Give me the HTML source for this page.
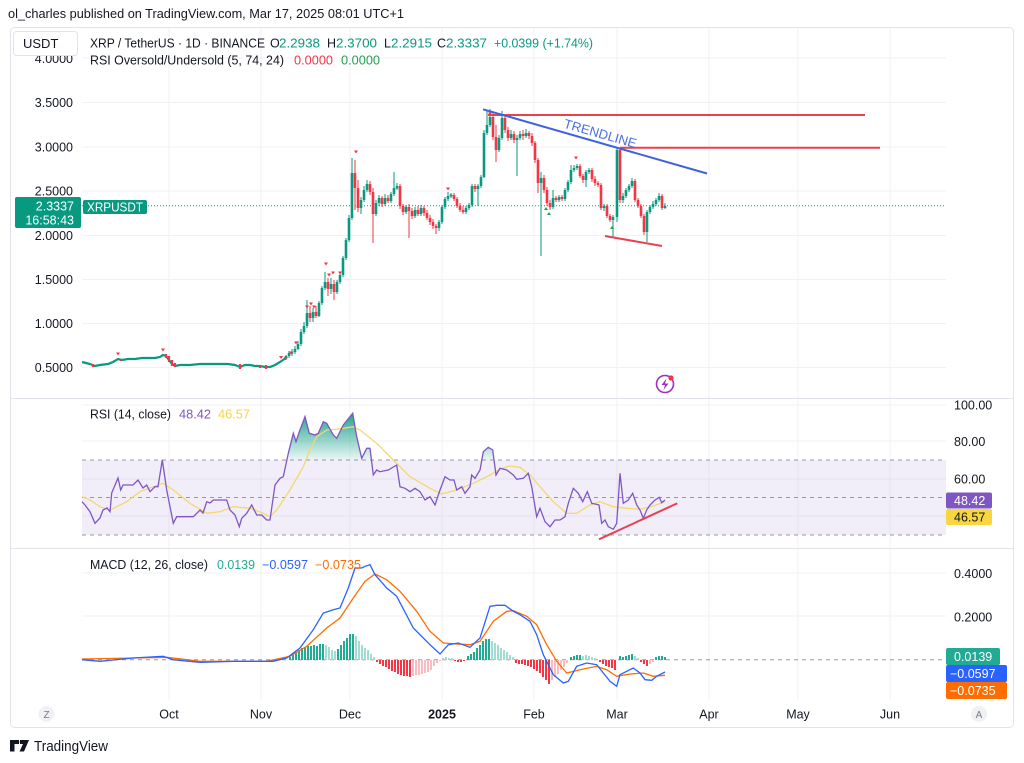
<!DOCTYPE html>
<html><head><meta charset="utf-8"><style>
html,body{margin:0;padding:0;background:#fff;width:1024px;height:763px;overflow:hidden}
svg{display:block}
text{font-family:"Liberation Sans",sans-serif}
</style></head><body>
<svg width="1024" height="763" viewBox="0 0 1024 763" xmlns="http://www.w3.org/2000/svg">
<defs>
<linearGradient id="rg" x1="0" y1="413" x2="0" y2="460" gradientUnits="userSpaceOnUse">
<stop offset="0" stop-color="#089981" stop-opacity="0.9"/><stop offset="1" stop-color="#089981" stop-opacity="0.08"/>
</linearGradient>
</defs>
<rect width="1024" height="763" fill="#fff"/>
<text x="8" y="18" font-size="13" fill="#131722" textLength="396" lengthAdjust="spacingAndGlyphs">ol_charles published on TradingView.com, Mar 17, 2025 08:01 UTC+1</text>
<rect x="10.5" y="27.5" width="1003" height="700" fill="none" stroke="#e0e3eb" rx="4"/>
<g stroke="#f0f1f4" stroke-width="1">
<path d="M82 58H946M82 102.5H946M82 147H946M82 191H946M82 235.5H946M82 279.5H946M82 323.5H946M82 367.5H946"/>
<path d="M82 405H946M82 441H946M82 479H946M82 516H946"/>
<path d="M82 573H946M82 616H946"/>
<path d="M169 28V700M261 28V700M350 28V700M442 28V700M534 28V700M617 28V700M709 28V700M798 28V700M890 28V700"/>
</g>
<path d="M10 398.5H1013M10 548.5H1013" stroke="#e0e3eb"/>
<g font-size="12.5" fill="#131722" text-anchor="end">
<text x="73" y="63">4.0000</text>
<text x="73" y="107">3.5000</text>
<text x="73" y="151.5">3.0000</text>
<text x="73" y="195.5">2.5000</text>
<text x="73" y="240">2.0000</text>
<text x="73" y="284">1.5000</text>
<text x="73" y="328">1.0000</text>
<text x="73" y="372">0.5000</text>
</g>
<rect x="13.5" y="31.5" width="64" height="24" rx="3" fill="#fff" stroke="#e0e3eb"/>
<text x="23" y="48" font-size="13" fill="#131722">USDT</text>
<g font-size="12.5">
<text x="90" y="47.5" fill="#131722" textLength="175" lengthAdjust="spacingAndGlyphs">XRP / TetherUS · 1D · BINANCE</text>
<text x="270" y="47.5" fill="#131722">O</text><text x="279" y="47.5" fill="#089981" textLength="41" lengthAdjust="spacingAndGlyphs">2.2938</text>
<text x="327" y="47.5" fill="#131722">H</text><text x="336" y="47.5" fill="#089981" textLength="41" lengthAdjust="spacingAndGlyphs">2.3700</text>
<text x="384" y="47.5" fill="#131722">L</text><text x="391" y="47.5" fill="#089981" textLength="41" lengthAdjust="spacingAndGlyphs">2.2915</text>
<text x="437" y="47.5" fill="#131722">C</text><text x="446" y="47.5" fill="#089981" textLength="41" lengthAdjust="spacingAndGlyphs">2.3337</text>
<text x="494" y="47.5" fill="#089981" textLength="99" lengthAdjust="spacingAndGlyphs">+0.0399 (+1.74%)</text>
<text x="90" y="64.5" fill="#131722" textLength="194" lengthAdjust="spacingAndGlyphs">RSI Oversold/Undersold (5, 74, 24)</text>
<text x="294" y="64.5" fill="#f23645" textLength="39" lengthAdjust="spacingAndGlyphs">0.0000</text>
<text x="341" y="64.5" fill="#22a04b" textLength="39" lengthAdjust="spacingAndGlyphs">0.0000</text>
</g>
<path d="M82 205.7H946" stroke="#089981" stroke-dasharray="1 2" stroke-width="1"/>
<polyline fill="none" stroke="#089981" stroke-width="2.2" points="82,362 86,363 90,364 95,366 100,365 108,364 113,362 118,359 122,360 128,359 135,359 142,358 150,358 155,358 160,357 163,355 166,356 169,360 172,364 175,366 180,365 190,365 200,364 210,364 220,364 228,364 235,365 240,367 245,365 250,365 255,366 260,366 265,367 270,367 275,365 280,362 286,358"/>
<g stroke="#f23645" stroke-width="2.2">
<path d="M93 364V367M121 359V361M166 354V358M169 356V362M172 360V366M175 363V367M240 364V369M260 365V368M266 365V369"/>
</g>
<path stroke="#089981" stroke-width="1" fill="none" d="M286 355V360M289 351V358M292 349V356M295 346V354M298 341V350M301 329V346M304 322V334M307 300V328M313 308V322M319 301V317M322 286V305M325 272V290M331 278V294M337 280V294M340 273V284M343 256V277M346 238V260M349 215V242M352 158V220M361 197V214M364 186V202M367 180V192M376 200V216M379 195V206M385 194V206M391 192V203M394 172V196M397 183V190M406 205V214M415 207V218M421 205V216M439 220V231M442 205V224M445 197V209M448 192V201M451 193V198M466 206V214M469 203V210M472 184V207M478 184V206M481 175V188M484 130V178M487 110V135M490 109V127M499 135V152M502 111V140M511 130V140M517 135V176M520 131V140M526 129V138M541 172V256M553 190V209M559 195V202M565 188V201M568 180V192M571 165V184M574 165V172M577 164V170M586 170V187M589 168V174M604 204V211M613 215V237M617 148V222M623 193V203M626 188V198M629 184V192M632 178V188M647 210V242M650 205V214M653 201V209M656 198V206M659 193V202M665 203V209"/>
<path stroke="#f23645" stroke-width="1" fill="none" d="M310 306V322M316 306V318M328 278V296M334 280V300M355 160V210M358 180V212M370 181V195M373 188V243M382 196V207M388 195V203M400 184V209M403 204V215M409 204V238M412 208V219M418 206V216M424 206V216M427 210V220M430 215V225M433 219V229M436 224V234M454 193V201M457 197V208M460 203V212M463 206V214M475 184V192M493 112V140M496 125V162M505 115V133M508 127V141M514 131V143M523 130V140M529 131V139M532 133V146M535 141V163M538 158V193M544 175V193M547 187V206M550 200V210M556 196V202M562 195V201M580 164V178M583 174V183M592 168V182M595 176V186M598 181V187M601 183V210M607 204V218M610 214V222M620 148V203M635 179V202M638 198V208M641 204V218M644 214V235M662 194V210"/>
<path stroke="#089981" stroke-width="2.6" fill="none" d="M286 356V358M289 353V356M292 351.5V353.5M295 349V352M298 344V349M301 332V344M304 326V332M307 313V326M313 312V318M319 303V316M322 288V303M325 282V288M331 284V289M337 282V292M340 275V282M343 258V275M346 240V258M349 218V240M352 173V218M361 200V208M364 190V200M367 184V190M376 203V214M379 198V203M385 198V204M391 194V201M394 188V194M397 186V188.5M406 207V212M415 210V216M421 208V214M439 222V228M442 207V222M445 199V207M448 196V199M451 194.5V196.5M466 208V212M469 205V208M472 186V205M478 186V189M481 177V186M484 133V177M487 125V133M490 117V125M499 138V150M502 118V138M511 134V138M517 138V140M520 134V138M526 133V136M541 178V183M553 198V207M559 197V200M565 190V199M568 182V190M571 170V182M574 168V170M577 166V168M586 172V180M589 170V172M604 206V208M613 217V220M617 150V217M623 196V200M626 190V196M629 186V190M632 181V186M647 212V232M650 207V212M653 204V207M656 200V204M659 196V200M665 206V208"/>
<path stroke="#f23645" stroke-width="2.6" fill="none" d="M310 313V318M316 312V316M328 282V289M334 284V292M355 173V188M358 188V208M370 184V192M373 192V214M382 198V204M388 198V201M400 186V206M403 206V212M409 207V211M412 211V216M418 210V214M424 208V213M427 213V218M430 218V222M433 222V226M436 226V228M454 195V199M457 199V206M460 206V210M463 210V212M475 186V189M493 117V137M496 137V150M505 118V130M508 130V138M514 134V140M523 134V136M529 133V136M532 136V143M535 143V160M538 160V183M544 178V190M547 190V203M550 203V207M556 198V200M562 197V199M580 166V176M583 176V180M592 170V179M595 179V183M598 183V185M601 185V208M607 206V216M610 216V220M620 150V200M635 181V200M638 200V206M641 206V216M644 216V232M662 196V208"/>
<g fill="#f23645">
<path d="M116 352.5h4l-2 3zM161 348.5h4l-2 3zM279 356h4l-2 3zM284 357h4l-2 3zM289 351.5h4l-2 3zM294 341.5h4l-2 3zM305 305.5h4l-2 3zM309 302.5h4l-2 3zM312 305.5h4l-2 3zM324 262.5h4l-2 3zM327 273.5h4l-2 3zM331 271.5h4l-2 3zM338 271.5h4l-2 3zM354 150.5h4l-2 3zM446 187.5h4l-2 3zM488 112.5h4l-2 3zM574 156.5h4l-2 3z"/>
</g>
<g fill="#22a04b">
<path d="M544 210h4l-2 -3zM547 215h4l-2 -3zM610 229h4l-2 -3z"/>
</g>
<path d="M488 115H865M620 147.7H880M605 236L662 246" stroke="#e8424f" stroke-width="2" fill="none"/>
<path d="M483 109.3L707 173.5" stroke="#3d62dc" stroke-width="2" fill="none"/>
<text x="0" y="0" font-size="13" fill="#4a6fe0" textLength="75" lengthAdjust="spacingAndGlyphs" transform="translate(563 127.5) rotate(15.9)">TRENDLINE</text>
<rect x="15" y="197" width="66" height="31" rx="2" fill="#089981"/>
<text x="74" y="210.5" font-size="12.5" fill="#fff" text-anchor="end">2.3337</text>
<text x="74" y="224.5" font-size="12.5" fill="#fff" text-anchor="end">16:58:43</text>
<rect x="83" y="200" width="64" height="14" rx="2" fill="#089981"/>
<text x="87" y="211.5" font-size="12.5" fill="#fff" textLength="56" lengthAdjust="spacingAndGlyphs">XRPUSDT</text>
<circle cx="665" cy="384" r="8.5" fill="#fff" stroke="#9c2fbf" stroke-width="1.6"/>
<path d="M666.5 378.5L661.5 385h3.5l-1.5 5 5-6.5h-3.5z" fill="#9c2fbf"/>
<circle cx="671" cy="378" r="2.6" fill="#f23645"/>
<rect x="82" y="460" width="864" height="75" fill="#7e57c2" fill-opacity="0.1"/>
<path d="M82 460H946M82 497.5H946M82 535H946" stroke="#9598a1" stroke-dasharray="4 4" stroke-width="1"/>
<path fill="url(#rg)" d="M286.9 460L288.3 453.3 293.3 433.3 296 441.7 299.3 431.7 305 416.7 309.3 433.3 315 435 318.3 433.3 323.3 421.7 326.7 423.3 333.3 435 336.7 438.3 343.3 425 352.7 413.3 356.7 436.7 361.7 458.3 366.7 448.3 370 448.3 371.4 460Z M481.8 460L483.3 451.7 488.3 447.3 492.7 450 494 460Z"/>
<polyline fill="none" stroke="#f5d76e" stroke-width="1.3" points="82,496.7 90,500 100,506.7 110,510 126.7,501.7 140,491.7 153.3,486.7 163.3,483.3 173.3,490 190,503.3 206.7,513.3 220,511.7 233.3,506.7 250,508.3 263.3,513.3 270,516.7 276.7,510 290,490 303.3,466.7 310,450 316.7,436.7 326.7,430 336.7,429.3 353.3,426.7 360,430 376.7,443.3 393.3,460 410,476.7 430,488.3 441.7,494 456.7,490 473.3,483.3 490,475 500,469 510,466 520,467.3 530,475 540,486.7 553.3,501.7 566.7,513.3 576.7,513.3 590,505 600,501.7 613.3,506.7 626.7,508.3 640,509.3 653.3,506 665,501.7"/>
<polyline fill="none" stroke="#7e57c2" stroke-width="1.3" points="82,501.7 85,505 90,511.7 95,523.3 100,518 103,510 107,508 110,511.7 111.7,493 118,478 120.7,490 123,485 133,485 138,480 143,488 146.7,485 150,491.7 155,486.7 158,486.7 162.3,460 166.7,490 170,506.7 173.3,523.3 176.7,516.7 193.3,516.7 200,510 203,513 206.7,501.7 210,503 213.3,500 226.7,500 230,510 235,515 239.3,526.7 241.7,518.3 246.7,513.3 251.7,505 256.7,515 261.7,515 266.7,520 270,520 275,485 280,478.3 283.3,476.7 288.3,453.3 293.3,433.3 296,441.7 299.3,431.7 305,416.7 309.3,433.3 315,435 318.3,433.3 323.3,421.7 326.7,423.3 333.3,435 336.7,438.3 343.3,425 352.7,413.3 356.7,436.7 361.7,458.3 366.7,448.3 370,448.3 373.3,475 376.7,470 380,471.7 388.3,470 396.7,465 400,486.7 405,488.3 410,491.7 415,488.3 420,491.7 425,500 430,496.7 435,505 440,490 445,476.7 450,480 454,480 456.7,490 461.7,486.7 465,493.3 470,486.7 471.7,475 475,478.3 480,470 483.3,451.7 488.3,447.3 492.7,450 496,475 500,468.3 506.7,470 513.3,475 516.7,479.3 523.3,478.3 528.3,473.3 531.7,486.7 536.7,516.7 540,508.3 545,521.7 550,526.7 555,520 560,520 565,516.7 568.3,503.3 573.3,488.3 578.3,493.3 582.7,501.7 587.3,491.7 591.7,503.3 595,504 599,505 601.7,523.3 605,520 608.3,526.7 613.3,529.3 616.7,523.3 620,473.3 623.3,503.3 628.3,500 632.7,493.3 636.7,505 640,510 643.3,518.3 646.7,510 650,505 655,500 659.3,497.3 661.7,502.7 665,500"/>
<path d="M599 539.3L677.3 503.3" stroke="#e8424f" stroke-width="2"/>
<g font-size="12.5">
<text x="90" y="418.5" fill="#131722" textLength="81" lengthAdjust="spacingAndGlyphs">RSI (14, close)</text>
<text x="179" y="418.5" fill="#7e57c2" textLength="32" lengthAdjust="spacingAndGlyphs">48.42</text>
<text x="218" y="418.5" fill="#f5d24a" textLength="32" lengthAdjust="spacingAndGlyphs">46.57</text>
</g>
<g font-size="12.5" fill="#131722">
<text x="954" y="409.5">100.00</text>
<text x="954" y="446">80.00</text>
<text x="954" y="483.5">60.00</text>
</g>
<rect x="946" y="492.5" width="46" height="16" rx="2" fill="#7e57c2"/>
<text x="954" y="505" font-size="12.5" fill="#fff">48.42</text>
<rect x="946" y="509" width="46" height="16" rx="2" fill="#f7d641"/>
<text x="954" y="521.5" font-size="12.5" fill="#131722">46.57</text>
<path d="M82 659.7H946" stroke="#9598a1" stroke-dasharray="4 4" stroke-width="1"/>
<g stroke-width="2" fill="none">
<path stroke="#22ab94" d="M290 660V657M293 660V655M296 660V652M299 660V650M302 660V648M305 660V647M308 660V646M311 660V646M314 660V645M317 660V646M320 660V644M323 660V644M338 660V649M341 660V645M344 660V641M347 660V638M350 660V634M353 660V634M468 660V656M471 660V654M474 660V652M477 660V648M480 660V645M483 660V641M486 660V639M489 660V639M571 660V657M574 660V656M577 660V655M580 660V655M620 660V656M623 660V657M626 660V656M629 660V655M632 660V654M656 660V657M659 660V656M662 660V656M665 660V657"/>
<path stroke="#a3dcd3" d="M326 660V645M329 660V647M332 660V650M335 660V651M356 660V636M359 660V641M362 660V645M365 660V648M368 660V650M371 660V654M374 660V657M443 660V658M446 660V657M449 660V658M452 660V658M492 660V641M495 660V643M498 660V645M501 660V648M504 660V650M507 660V652M510 660V655M513 660V657M583 660V656M586 660V655M589 660V656M592 660V657M595 660V658M635 660V656M638 660V658"/>
<path stroke="#f23645" d="M377 660V662M380 660V664M383 660V666M386 660V667M389 660V669M392 660V671M395 660V672M398 660V674M401 660V675M404 660V676M407 660V676M410 660V677M516 660V663M519 660V664M522 660V664M525 660V665M528 660V666M531 660V667M534 660V669M537 660V671M540 660V673M543 660V677M546 660V680M549 660V684M600 660V662M603 660V664M606 660V666M609 660V667M612 660V668M615 660V670M641 660V662M644 660V664M647 660V666M455 660V661M458 660V662M461 660V662M464 660V661"/>
<path stroke="#f9bcc0" d="M413 660V676M416 660V675M419 660V675M422 660V674M425 660V673M428 660V672M431 660V670M434 660V666M437 660V663M440 660V661M552 660V680M555 660V677M558 660V674M561 660V670M564 660V667M567 660V663M650 660V664M653 660V662"/>
</g>
<polyline fill="none" stroke="#ff6d00" stroke-width="1.3" points="82,659 133,658 166.7,657.3 200,661.3 266.7,661.3 290,656.3 306.7,646.3 326.7,628 340,618 353.3,598 365,581.3 375,574 386.7,579.7 400,591.3 416.7,611.3 430,631.3 443.3,643 456.7,644 470,644.7 480,641.3 493.3,621.3 506.7,611.3 513.3,610.7 526.7,616.3 536.7,624.7 546.7,644.7 556.7,661.3 566.7,673 580,669.7 596.7,666.3 606.7,669.7 616.7,676.3 630,674 643.3,673 653.3,676.3 665,675.3"/>
<polyline fill="none" stroke="#2962ff" stroke-width="1.3" points="82,659.7 100,661.3 133,658 163.3,656.3 173,659.7 200,662.3 233,661.3 273,661.3 286.7,658 300,648 313.3,629.7 323.3,613 333.3,609.7 340,608 348.3,588 355,568 361.7,568 365,566.3 370,564.7 375,574.7 386.7,588 396.7,596.3 413.3,628 430,644.7 440,654 448.3,644.7 458.3,643 470,647.3 480,638 490,606.3 496.7,605.3 505,605.3 513.3,611.3 520,614.7 530,621.3 536.7,634.7 543.3,654.7 553.3,674.7 563.3,683 568.3,681.3 576.7,666.3 586.7,663 596.7,664.7 603.3,673 610,681.3 616.7,686.3 620,674.7 626.7,671.3 633.3,668 640,673 645,679.7 651.7,680.3 656.7,676.3 665,672"/>
<g font-size="12.5">
<text x="90" y="569" fill="#131722" textLength="118" lengthAdjust="spacingAndGlyphs">MACD (12, 26, close)</text>
<text x="217" y="569" fill="#22ab94" textLength="38" lengthAdjust="spacingAndGlyphs">0.0139</text>
<text x="262" y="569" fill="#2962ff" textLength="46" lengthAdjust="spacingAndGlyphs">−0.0597</text>
<text x="315" y="569" fill="#ff6d00" textLength="46" lengthAdjust="spacingAndGlyphs">−0.0735</text>
</g>
<g font-size="12.5" fill="#131722">
<text x="954" y="578">0.4000</text>
<text x="954" y="621.5">0.2000</text>
</g>
<rect x="946" y="648" width="54" height="17" rx="2" fill="#22ab94"/>
<text x="954" y="661" font-size="12.5" fill="#fff">0.0139</text>
<rect x="946" y="665" width="61" height="17" rx="2" fill="#2962ff"/>
<text x="950" y="678" font-size="12.5" fill="#fff">−0.0597</text>
<rect x="946" y="682" width="61" height="17" rx="2" fill="#ff6d00"/>
<text x="950" y="695" font-size="12.5" fill="#fff">−0.0735</text>
<circle cx="46.5" cy="714" r="8" fill="#f0f1f4"/>
<text x="46.5" y="718" font-size="10" fill="#787b86" text-anchor="middle">Z</text>
<circle cx="979" cy="714" r="8" fill="#f0f1f4"/>
<text x="979" y="718" font-size="10" fill="#787b86" text-anchor="middle">A</text>
<g font-size="12.5" fill="#131722" text-anchor="middle">
<text x="169" y="718.5">Oct</text>
<text x="261" y="718.5">Nov</text>
<text x="350" y="718.5">Dec</text>
<text x="442" y="718.5" font-weight="bold">2025</text>
<text x="534" y="718.5">Feb</text>
<text x="617" y="718.5">Mar</text>
<text x="709" y="718.5">Apr</text>
<text x="798" y="718.5">May</text>
<text x="890" y="718.5">Jun</text>
</g>
<path d="M10 740h9v4h-4.5v7.5h-4.5zM20 740h9l-5 11.5h-4.5l3.5-7.5h-3z" fill="#131722"/>
<circle cx="21.5" cy="742" r="1.8" fill="#131722"/>
<text x="34" y="751" font-size="14.5" fill="#131722" textLength="74" lengthAdjust="spacingAndGlyphs">TradingView</text>
</svg>
</body></html>
